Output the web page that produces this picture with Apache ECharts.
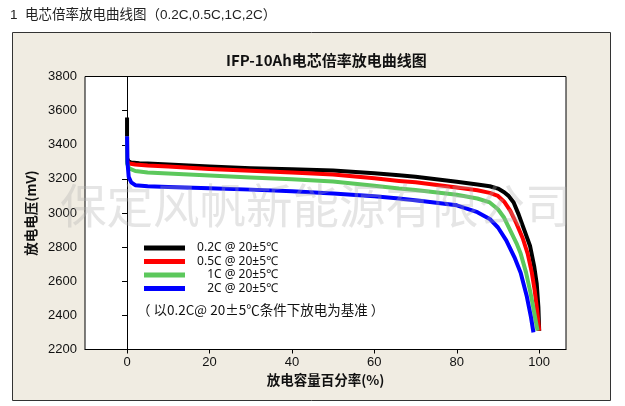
<!DOCTYPE html>
<html>
<head>
<meta charset="utf-8">
<script src="https://cdn.jsdelivr.net/npm/echarts@6/dist/echarts.min.js"></script>
<style>
html,body{margin:0;padding:0;background:#fff;}
#chart{width:625px;height:406px;}
</style>
</head>
<body>
<div id="chart"></div>
<script>
// ---- data (discharge capacity %, voltage mV) ----
const seriesNames = ['0.2C @ 20±5℃', '0.5C @ 20±5℃', '1C @ 20±5℃', '2C @ 20±5℃'];
const xTicks = [0, 20, 40, 60, 80, 100];
const yTicks = [2200, 2400, 2600, 2800, 3000, 3200, 3400, 3600, 3800];
const curve02C = [[0,3560],[0,3320],[0.4,3302],[1,3296],[3,3292],[5,3290],[10,3284],[20,3272],[30,3263],[40,3257],[50,3249],[60,3233],[66,3221],[70,3213],[80,3183],[85,3167],[88,3157],[90,3143],[91.5,3122],[92.5,3102],[93.8,3062],[95,2992],[96.5,2892],[97.8,2805],[98.8,2685],[99.4,2585],[99.8,2450],[100,2310]];
const curve05C = [[0,3450],[0,3305],[0.5,3290],[2,3284],[5,3278],[10,3272],[20,3258],[30,3248],[40,3238],[50,3225],[60,3203],[66,3188],[70,3180],[80,3150],[85,3133],[88,3118],[90,3100],[91.5,3066],[93,3012],[94.5,2937],[96,2852],[97.2,2762],[98.2,2652],[98.9,2547],[99.5,2430],[100,2310]];
const curve1C = [[0,3450],[0,3290],[0.5,3262],[2,3246],[5,3238],[10,3232],[20,3220],[30,3208],[40,3198],[50,3184],[60,3160],[66,3143],[70,3135],[80,3107],[85,3085],[88,3062],[90,3022],[91.5,2972],[93,2897],[94.5,2822],[95.5,2762],[96.8,2652],[97.8,2542],[98.6,2442],[99.2,2362],[99.6,2310]];
const curve2C = [[0,3450],[0.1,3300],[0.4,3212],[1,3180],[2,3163],[5,3157],[10,3152],[20,3145],[30,3137],[40,3128],[50,3115],[60,3098],[66,3085],[71,3072],[80,3045],[85,3005],[88,2965],[90,2915],[92,2840],[94,2740],[95.5,2650],[97,2510],[98,2390],[98.6,2300]];
const seriesData = [curve02C, curve05C, curve1C, curve2C];
const seriesColors = ['#000000', '#ff0000', '#5cc85c', '#0000ff'];

const chart = echarts.init(document.getElementById('chart'), null, {renderer: 'canvas'});
const cjk = "'Noto Sans CJK SC', 'Noto Sans', sans-serif";
const option = {
  backgroundColor: '#ffffff',
  animation: false,
  title: {
    text: 'IFP-10Ah电芯倍率放电曲线图',
    left: 221, top: 48,
    textStyle: {fontFamily: cjk, fontSize: 15, fontWeight: 'bold', color: '#111'}
  },
  graphic: {
    elements: [
      {type: 'rect', z: -10, shape: {x: 12.5, y: 32.5, width: 598, height: 368},
       style: {fill: '#f0ece2', stroke: '#333333', lineWidth: 1}},
      {type: 'text', left: 10, top: 9, z: 10,
       style: {text: '1  电芯倍率放电曲线图（0.2C,0.5C,1C,2C）', fontFamily: "'Liberation Sans', 'Noto Sans CJK SC', sans-serif", fontSize: 13.5, fill: '#222'}},
      {type: 'text', left: 137, top: 303, z: 10,
       style: {text: '（ 以0.2C@ 20±5℃条件下放电为基准 ）', fontFamily: cjk, fontSize: 13.5, fill: '#111'}},
      {type: 'text', left: 60, top: 182, z: 100,
       style: {text: '保定风帆新能源有限公司', fontFamily: cjk, fontSize: 46.5, fill: 'rgba(175,175,175,0.32)'}}
    ]
  },
  legend: {
    orient: 'vertical', left: 139, top: 237,
    itemWidth: 41, itemHeight: 5, itemGap: 1.5, icon: 'rect',
    data: seriesNames,
    formatter: function (n) { return '{a|' + n + '}'; },
    textStyle: {fontFamily: "'Noto Sans', sans-serif", fontSize: 12, color: '#111',
      rich: {a: {width: 88, align: 'right', fontFamily: "'Noto Sans', sans-serif", fontSize: 12, color: '#111', lineHeight: 14}}}
  },
  grid: {left: 85, top: 76.5, right: 59, bottom: 56.5, show: true, backgroundColor: '#ffffff', borderColor: '#000', borderWidth: 1, containLabel: false},
  xAxis: {
    type: 'value', min: -10.2, max: 106.5,
    name: '放电容量百分率(%)', nameLocation: 'middle', nameGap: 21,
    nameTextStyle: {fontFamily: cjk, fontSize: 13.5, fontWeight: 'bold', color: '#111'},
    axisLine: {show: true, lineStyle: {color: '#000', width: 1}},
    axisTick: {show: true, length: 4, customValues: xTicks, lineStyle: {color: '#000'}},
    axisLabel: {customValues: xTicks, margin: 6, fontFamily: "'Liberation Sans', Arial, sans-serif", fontSize: 13, color: '#111'},
    splitLine: {show: false}
  },
  yAxis: {
    type: 'value', min: yTicks[0], max: yTicks[yTicks.length - 1], interval: 200,
    name: '放电电压(mV)', nameLocation: 'middle', nameGap: 45,
    nameTextStyle: {fontFamily: cjk, fontSize: 13.5, fontWeight: 'bold', color: '#111'},
    axisLine: {show: true, lineStyle: {color: '#000', width: 1}},
    axisTick: {show: true, length: 5, lineStyle: {color: '#000'}},
    axisLabel: {margin: 8, formatter: function (v) { return String(v); }, fontFamily: "'Liberation Sans', Arial, sans-serif", fontSize: 13, color: '#111'},
    splitLine: {show: false}
  },
  series: seriesData.map(function (d, i) {
    return {
      name: seriesNames[i], type: 'line', data: d, showSymbol: false, symbol: 'none',
      color: seriesColors[i],
      lineStyle: {color: seriesColors[i], width: 4, join: 'round'},
      itemStyle: {color: seriesColors[i]}
    };
  })
};
chart.setOption(option);
</script>
</body>
</html>
